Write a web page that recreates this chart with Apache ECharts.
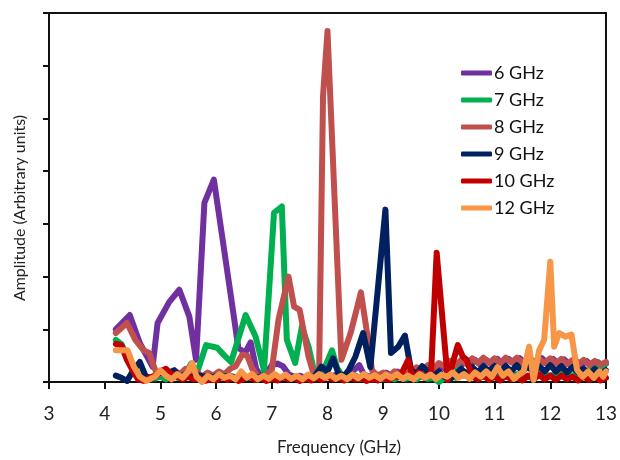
<!DOCTYPE html>
<html>
<head>
<meta charset="utf-8">
<script src="https://cdn.jsdelivr.net/npm/echarts@6/dist/echarts.min.js"></script>
<style>
  html, body { margin: 0; padding: 0; background: #fff; }
  #chart { width: 620px; height: 460px; }
</style>
</head>
<body>
<div id="chart"></div>
<script>
// series names / colours
var seriesNames = ['6 GHz', '7 GHz', '8 GHz', '9 GHz', '10 GHz', '12 GHz'];
var seriesColors = ['#7030A0', '#00B050', '#C0504D', '#002060', '#C00000', '#F79646'];
var xTicks = [3, 4, 5, 6, 7, 8, 9, 10, 11, 12, 13];

// [frequency GHz, amplitude]
var s6 = [[4.2,1.0],[4.45,1.27],[4.63,0.74],[4.86,0.29],[4.95,1.12],[5.16,1.52],[5.34,1.75],[5.52,1.24],[5.64,0.42],[5.79,3.4],[5.96,3.84],[6.1,2.83],[6.25,1.74],[6.4,0.65],[6.52,0.55],[6.62,0.75],[6.72,0.25],[6.8,0.12],[6.9,0.15],[7.0,0.32],[7.1,0.35],[7.2,0.3],[7.3,0.15],[7.4,0.1],[7.5,0.12],[7.6,0.08],[7.7,0.12],[7.8,0.1],[7.9,0.14],[8.0,0.1],[8.1,0.12],[8.2,0.15],[8.3,0.1],[8.4,0.15],[8.5,0.25],[8.57,0.32],[8.65,0.15],[8.75,0.1],[8.85,0.15],[8.95,0.12],[9.05,0.18],[9.15,0.12],[9.25,0.2],[9.35,0.15],[9.45,0.22],[9.55,0.15],[9.65,0.25],[9.75,0.2],[9.85,0.3],[9.95,0.2],[10.05,0.3],[10.15,0.22],[10.25,0.35],[10.35,0.25],[10.45,0.38],[10.55,0.3],[10.65,0.42],[10.75,0.32],[10.85,0.42],[10.95,0.33],[11.05,0.44],[11.15,0.34],[11.25,0.44],[11.35,0.35],[11.45,0.45],[11.55,0.35],[11.65,0.44],[11.75,0.34],[11.85,0.45],[11.95,0.35],[12.05,0.44],[12.15,0.34],[12.25,0.43],[12.35,0.33],[12.45,0.42],[12.55,0.3],[12.65,0.4],[12.75,0.3],[12.85,0.38],[12.95,0.3],[13.0,0.35]];

var s7 = [[4.2,0.8],[4.3,0.72],[4.42,0.45],[4.52,0.3],[4.62,0.12],[4.72,0.08],[4.85,0.05],[5.0,0.1],[5.1,0.05],[5.2,0.12],[5.3,0.08],[5.45,0.15],[5.55,0.35],[5.65,0.15],[5.82,0.7],[6.02,0.65],[6.15,0.5],[6.27,0.38],[6.53,1.27],[6.71,0.86],[6.86,0.22],[7.04,3.21],[7.18,3.33],[7.27,0.8],[7.42,0.36],[7.54,1.05],[7.66,0.67],[7.76,0.2],[7.86,0.12],[7.96,0.3],[8.08,0.6],[8.18,0.25],[8.28,0.1],[8.4,0.08],[8.5,0.12],[8.6,0.06],[8.7,0.1],[8.8,0.05],[8.9,0.1],[9.0,0.06],[9.1,0.1],[9.2,0.05],[9.3,0.1],[9.4,0.06],[9.5,0.1],[9.6,0.05],[9.7,0.12],[9.8,0.06],[9.9,0.08],[10.0,0.0],[10.1,0.08],[10.2,0.12],[10.3,0.08],[10.35,0.3],[10.45,0.12],[10.6,0.15],[10.8,0.1],[11.0,0.15],[11.2,0.1],[11.4,0.15],[11.6,0.1],[11.8,0.15],[12.0,0.12],[12.2,0.18],[12.4,0.12],[12.6,0.2],[12.8,0.25],[12.9,0.3],[13.0,0.35]];

var s8 = [[4.2,0.93],[4.4,1.12],[4.55,0.8],[4.7,0.6],[4.8,0.55],[4.88,0.3],[4.95,0.12],[5.05,0.2],[5.15,0.12],[5.25,0.22],[5.35,0.15],[5.45,0.25],[5.55,0.12],[5.65,0.2],[5.75,0.1],[5.85,0.18],[5.95,0.12],[6.05,0.2],[6.15,0.15],[6.25,0.25],[6.35,0.3],[6.47,0.52],[6.56,0.5],[6.65,0.25],[6.75,0.1],[6.85,0.08],[7.0,0.23],[7.12,1.18],[7.3,2.0],[7.4,1.43],[7.5,1.37],[7.66,0.48],[7.76,0.12],[7.85,0.22],[7.92,5.42],[8.0,6.66],[8.25,0.42],[8.42,0.95],[8.6,1.7],[8.7,1.0],[8.8,0.22],[8.9,0.12],[9.0,0.18],[9.1,0.1],[9.2,0.2],[9.3,0.12],[9.4,0.22],[9.5,0.18],[9.6,0.28],[9.7,0.22],[9.8,0.32],[9.9,0.25],[10.0,0.36],[10.1,0.3],[10.2,0.4],[10.3,0.32],[10.4,0.42],[10.5,0.34],[10.6,0.45],[10.7,0.36],[10.8,0.46],[10.9,0.36],[11.0,0.45],[11.1,0.36],[11.2,0.46],[11.3,0.37],[11.4,0.46],[11.5,0.36],[11.6,0.45],[11.7,0.35],[11.8,0.44],[11.9,0.36],[12.0,0.45],[12.1,0.35],[12.2,0.44],[12.3,0.34],[12.4,0.42],[12.5,0.33],[12.6,0.42],[12.7,0.32],[12.8,0.4],[12.9,0.33],[13.0,0.38]];

var s9 = [[4.2,0.12],[4.3,0.08],[4.4,0.02],[4.5,0.2],[4.63,0.38],[4.73,0.12],[4.85,0.05],[4.95,0.15],[5.05,0.2],[5.15,0.18],[5.25,0.22],[5.35,0.1],[5.45,0.15],[5.55,0.08],[5.65,0.15],[5.75,0.1],[5.85,0.12],[5.95,0.08],[6.05,0.15],[6.15,0.1],[6.25,0.12],[6.35,0.08],[6.45,0.1],[6.55,0.06],[6.65,0.12],[6.75,0.08],[6.85,0.12],[6.95,0.06],[7.05,0.1],[7.15,0.05],[7.25,0.12],[7.35,0.08],[7.45,0.1],[7.55,0.06],[7.65,0.12],[7.75,0.08],[7.89,0.29],[8.0,0.2],[8.1,0.45],[8.2,0.15],[8.3,0.12],[8.38,0.22],[8.5,0.48],[8.64,0.93],[8.77,0.28],[9.04,3.27],[9.14,0.55],[9.27,0.67],[9.39,0.88],[9.5,0.23],[9.6,0.15],[9.7,0.3],[9.8,0.2],[9.9,0.1],[10.0,0.2],[10.1,0.1],[10.2,0.05],[10.3,0.15],[10.4,0.25],[10.5,0.15],[10.6,0.28],[10.7,0.18],[10.8,0.3],[10.9,0.2],[11.0,0.3],[11.1,0.18],[11.2,0.3],[11.3,0.2],[11.4,0.32],[11.5,0.2],[11.6,0.3],[11.7,0.18],[11.8,0.3],[11.9,0.2],[12.0,0.32],[12.1,0.2],[12.2,0.3],[12.3,0.18],[12.4,0.28],[12.5,0.18],[12.6,0.25],[12.7,0.15],[12.8,0.25],[12.9,0.15],[13.0,0.22]];

var s10 = [[4.2,0.72],[4.3,0.7],[4.4,0.42],[4.5,0.22],[4.6,0.05],[4.7,0.02],[4.8,0.08],[4.9,0.12],[5.0,0.2],[5.1,0.25],[5.2,0.15],[5.3,0.1],[5.4,0.05],[5.5,0.1],[5.6,0.05],[5.7,0.08],[5.8,0.02],[5.9,0.05],[6.0,0.03],[6.1,0.1],[6.2,0.04],[6.3,0.08],[6.4,0.02],[6.5,0.06],[6.6,0.1],[6.7,0.04],[6.8,0.08],[6.9,0.02],[7.0,0.06],[7.1,0.03],[7.2,0.1],[7.3,0.05],[7.4,0.08],[7.5,0.02],[7.6,0.06],[7.7,0.03],[7.8,0.08],[7.9,0.04],[8.0,0.1],[8.1,0.05],[8.2,0.08],[8.3,0.03],[8.4,0.1],[8.5,0.05],[8.6,0.08],[8.7,0.02],[8.8,0.06],[8.9,0.03],[9.0,0.08],[9.1,0.04],[9.2,0.1],[9.3,0.1],[9.45,0.42],[9.54,0.05],[9.64,0.18],[9.74,0.08],[9.86,0.17],[9.96,2.45],[10.16,0.04],[10.34,0.7],[10.43,0.48],[10.5,0.42],[10.6,0.1],[10.7,0.05],[10.8,0.12],[10.9,0.04],[11.0,0.1],[11.1,0.03],[11.2,0.12],[11.3,0.05],[11.4,0.1],[11.5,0.03],[11.6,0.12],[11.7,0.05],[11.8,0.14],[11.9,0.05],[12.0,0.12],[12.1,0.04],[12.2,0.12],[12.3,0.05],[12.4,0.1],[12.5,0.03],[12.6,0.1],[12.7,0.04],[12.8,0.1],[12.9,0.03],[13.0,0.08]];

var s12 = [[4.2,0.6],[4.41,0.6],[4.52,0.3],[4.63,0.1],[4.75,0.02],[4.9,0.1],[5.0,0.22],[5.1,0.12],[5.2,0.05],[5.3,0.15],[5.4,0.08],[5.5,0.2],[5.57,0.36],[5.65,0.1],[5.75,0.0],[5.85,0.12],[5.95,0.05],[6.05,0.15],[6.15,0.08],[6.25,0.12],[6.35,0.05],[6.45,0.2],[6.55,0.08],[6.65,0.15],[6.75,0.05],[6.85,0.12],[6.95,0.06],[7.05,0.15],[7.15,0.08],[7.25,0.14],[7.35,0.06],[7.45,0.12],[7.55,0.05],[7.65,0.14],[7.75,0.07],[7.85,0.15],[7.95,0.08],[8.05,0.14],[8.15,0.06],[8.25,0.12],[8.35,0.05],[8.45,0.14],[8.55,0.07],[8.65,0.15],[8.75,0.08],[8.85,0.13],[8.95,0.06],[9.05,0.14],[9.15,0.08],[9.25,0.15],[9.35,0.06],[9.45,0.12],[9.55,0.05],[9.65,0.15],[9.75,0.08],[9.85,0.14],[9.95,0.06],[10.05,0.14],[10.15,0.1],[10.25,0.18],[10.35,0.08],[10.45,0.15],[10.55,0.06],[10.65,0.18],[10.75,0.1],[10.85,0.2],[10.95,0.1],[11.05,0.28],[11.15,0.12],[11.25,0.2],[11.35,0.06],[11.45,0.15],[11.52,0.2],[11.62,0.67],[11.7,0.04],[11.8,0.6],[11.89,0.8],[12.0,2.28],[12.07,0.67],[12.16,0.93],[12.27,0.86],[12.38,0.9],[12.48,0.23],[12.58,0.1],[12.68,0.2],[12.78,0.08],[12.88,0.2],[12.95,0.1],[13.0,0.2]];

var seriesData = [s6, s7, s8, s9, s10, s12];

var chart = echarts.init(document.getElementById('chart'));

var fontFam = 'Lato, "Liberation Sans", sans-serif';

var option = {
    animation: false,
    backgroundColor: '#fff',
    grid: {
        left: 49,
        right: 11,
        top: 13,
        bottom: 78,
        show: true,
        borderColor: '#111',
        borderWidth: 2
    },
    legend: {
        orient: 'vertical',
        left: 461,
        top: 64,
        padding: 0,
        itemWidth: 31,
        itemHeight: 5,
        itemGap: 9,
        icon: 'roundRect',
        data: seriesNames,
        textStyle: {
            fontSize: 18,
            color: '#111',
            fontFamily: fontFam,
            padding: [0, 0, 0, -3]
        }
    },
    xAxis: {
        type: 'value',
        min: 3,
        max: 13,
        interval: 1,
        axisLine: { lineStyle: { color: '#111', width: 2 } },
        axisTick: { inside: false, length: 7, lineStyle: { color: '#111', width: 2 } },
        axisLabel: {
            margin: 22,
            fontSize: 19,
            color: '#222',
            fontFamily: fontFam,
            formatter: function(v) { return xTicks.indexOf(v) >= 0 ? String(v) : ''; }
        },
        splitLine: { show: false }
    },
    yAxis: {
        type: 'value',
        min: 0,
        max: 7,
        interval: 1,
        axisLine: { show: true, lineStyle: { color: '#111', width: 2 } },
        axisTick: { show: true, inside: false, length: 6, lineStyle: { color: '#111', width: 2 } },
        axisLabel: { show: false },
        splitLine: { show: false }
    },
    graphic: [
        {
            type: 'text',
            x: 20,
            y: 208,
            rotation: Math.PI / 2,
            style: {
                text: 'Amplitude (Arbitrary units)',
                fontSize: 16,
                fontFamily: fontFam,
                fill: '#222',
                align: 'center',
                verticalAlign: 'middle'
            }
        },
        {
            type: 'text',
            x: 339,
            y: 448,
            style: {
                text: 'Frequency (GHz)',
                fontSize: 17,
                fontFamily: fontFam,
                fill: '#222',
                align: 'center',
                verticalAlign: 'middle'
            }
        }
    ],
    series: seriesNames.map(function(name, i) {
        return {
            name: name,
            type: 'line',
            data: seriesData[i],
            showSymbol: false,
            symbol: 'none',
            color: seriesColors[i],
            lineStyle: {
                color: seriesColors[i],
                width: 6,
                cap: 'round',
                join: 'round'
            }
        };
    })
};

chart.setOption(option);
</script>
</body>
</html>
